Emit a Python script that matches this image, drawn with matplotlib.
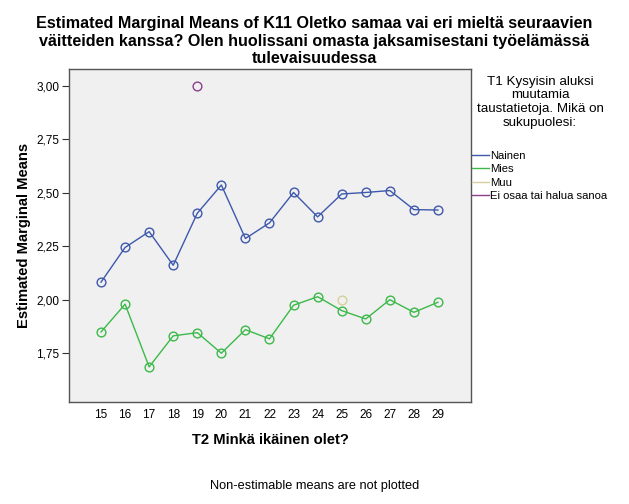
import matplotlib
matplotlib.use("Agg")
import matplotlib.pyplot as plt

ages = [15, 16, 17, 18, 19, 20, 21, 22, 23, 24, 25, 26, 27, 28, 29]
nainen = [2.083, 2.245, 2.319, 2.162, 2.405, 2.537, 2.287, 2.360, 2.502,
          2.388, 2.495, 2.502, 2.511, 2.422, 2.420]
mies = [1.850, 1.980, 1.687, 1.832, 1.847, 1.751, 1.861, 1.818, 1.975,
        2.015, 1.950, 1.911, 2.001, 1.942, 1.989]
muu_age = [25]
muu = [2.00]
ei_age = [19]
ei_osaa = [3.00]

yticks = [1.75, 2.00, 2.25, 2.50, 2.75, 3.00]
ytick_labels = ["1,75", "2,00", "2,25", "2,50", "2,75", "3,00"]

plt.rcParams['font.family'] = ['Liberation Sans', 'DejaVu Sans']

fig = plt.figure(figsize=(6.29, 5.04), dpi=100)
ax = fig.add_axes([0.1097, 0.2024, 0.639, 0.6607])
ax.set_facecolor('#f0f0f0')

mk = dict(marker='o', markersize=6.3, markerfacecolor='none', markeredgewidth=1.0, linewidth=1.0)
ax.plot(ages, nainen, color='#3e58ac', label='Nainen', **mk)
ax.plot(ages, mies, color='#3cb94a', label='Mies', **mk)
ax.plot(muu_age, muu, color='#d6d09a', label='Muu', **mk)
ax.plot(ei_age, ei_osaa, color='#8a3f8c', label='Ei osaa tai halua sanoa', **mk)

ax.set_xlim(13.67, 30.37)
ax.set_ylim(1.523, 3.079)
ax.set_xticks(ages)
ax.set_xticklabels([str(a) for a in ages], fontsize=8.5)
ax.set_yticks(yticks)
ax.set_yticklabels(ytick_labels, fontsize=8.5)
ax.tick_params(axis='x', length=0, pad=5)
ax.tick_params(axis='y', length=5, width=0.8, color='#333333', pad=2)
for s in ax.spines.values():
    s.set_color('#555555')
    s.set_linewidth(1.0)

fig.text(0.5, 0.968, "Estimated Marginal Means of K11 Oletko samaa vai eri mieltä seuraavien\n"
         "väitteiden kanssa? Olen huolissani omasta jaksamisestani työelämässä\n"
         "tulevaisuudessa", ha='center', va='top', fontsize=11.6, fontweight='bold',
         linespacing=1.2)
ax.set_xlabel("T2 Minkä ikäinen olet?", fontsize=10.6, fontweight='bold', labelpad=9)
ax.set_ylabel("Estimated Marginal Means", fontsize=10.6, fontweight='bold', labelpad=4)
fig.text(0.5, 0.036, "Non-estimable means are not plotted", ha='center', va='center', fontsize=9.2)

leg = fig.legend(loc='upper left', bbox_to_anchor=(0.751, 0.85),
                 title="T1 Kysyisin aluksi\nmuutamia\ntaustatietoja. Mikä on\nsukupuolesi:",
                 fontsize=8.1, title_fontsize=9.6, frameon=False, handlelength=1.5,
                 handletextpad=0.1, labelspacing=0.28, borderaxespad=0, borderpad=0)
for h in leg.legend_handles:
    h.set_marker('')
leg.get_title().set_multialignment('center')
leg._legend_box.sep = 16

fig.savefig("out.png", dpi=100)
